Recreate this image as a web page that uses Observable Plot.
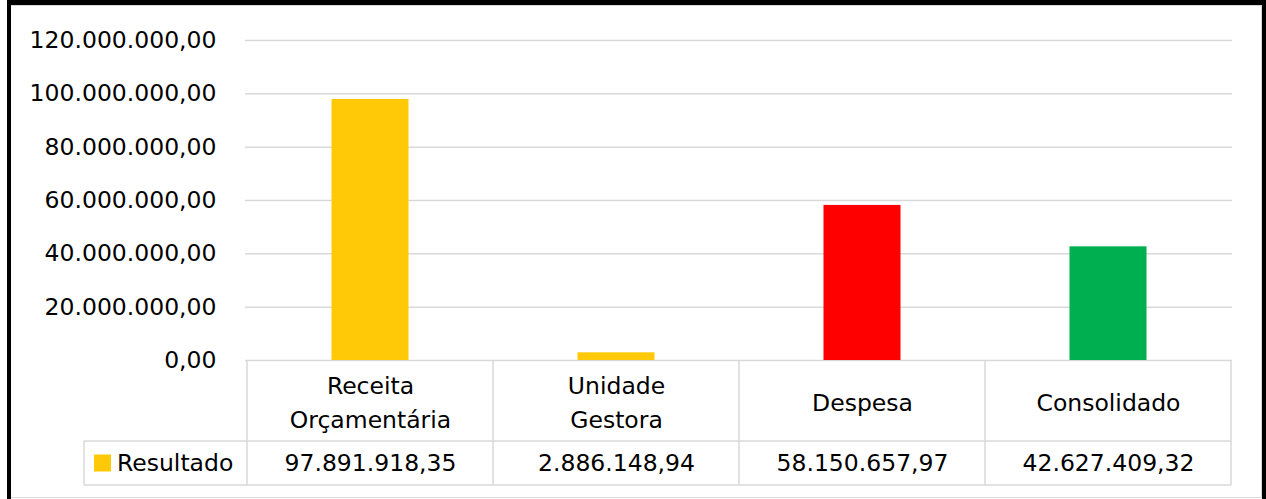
<!DOCTYPE html>
<html>
<head>
<meta charset="utf-8">
<script src="https://cdn.jsdelivr.net/npm/d3@7"></script>
<script src="https://cdn.jsdelivr.net/npm/@observablehq/plot@0.6"></script>
<style>
  html, body { margin: 0; padding: 0; background: #fff; }
  #wrap { position: relative; width: 1266px; height: 499px; overflow: hidden; font-family: "DejaVu Sans", sans-serif; }
  .b { position: absolute; background: #000; }
  #inner { position: absolute; left: 10px; top: 5px; width: 1250px; height: 491px; border: 1px solid #d9d9d9; box-sizing: content-box; }
  #chart { position: absolute; left: 0; top: 0; }
</style>
</head>
<body>
<div id="wrap">
  <div id="inner"></div>
  <div id="chart"></div>
  <div class="b" style="left:7px;top:0;width:1259px;height:5px"></div>
  <div class="b" style="left:7px;top:0;width:4px;height:499px"></div>
  <div class="b" style="left:1262px;top:0;width:4px;height:499px"></div>
</div>
<script>
const categories = ["Receita Orçamentária", "Unidade Gestora", "Despesa", "Consolidado"];
const categoryLabels = ["Receita\nOrçamentária", "Unidade\nGestora", "Despesa", "Consolidado"];
const values = [97891918.35, 2886148.94, 58150657.97, 42627409.32];
const barColors = ["#FFC907", "#FFC907", "#FF0000", "#00B050"];
const seriesName = "Resultado";
const legendColor = "#FFC907";
const yTicks = [0, 20000000, 40000000, 60000000, 80000000, 100000000, 120000000];

const ptBR = d3.formatLocale({decimal: ",", thousands: ".", grouping: [3], currency: ["", ""]});
const fmt = ptBR.format(",.2f");

const data = categories.map((c, i) => ({cat: c, label: categoryLabels[i], value: values[i], color: barColors[i]}));

const FONT = 23.5;
const FAMILY = '"DejaVu Sans", sans-serif';
const gridColor = "#d9d9d9";

const plot = Plot.plot({
  width: 1266,
  height: 499,
  marginLeft: 245,
  marginRight: 34,
  marginTop: 40,
  marginBottom: 139,
  style: {fontFamily: FAMILY, fontSize: FONT + "px", color: "#000", background: "transparent", overflow: "visible"},
  x: {domain: categories, paddingInner: 0, paddingOuter: 0, axis: null},
  y: {domain: [0, 120000000], axis: null, label: null},
  marks: [
    Plot.gridY(yTicks, {stroke: gridColor, strokeOpacity: 1, strokeWidth: 1.5}),
    Plot.axisY(yTicks, {tickSize: 0, tickPadding: 29, tickFormat: fmt, fontSize: FONT, fill: "#000", label: null}),
    Plot.barY(data, {x: "cat", y: "value", fill: "color", insetLeft: 84.5, insetRight: 84.5}),
    Plot.text(data, {x: "cat", y: () => 0, text: "label", dy: 40, lineHeight: 1.45, fontSize: FONT, fill: "#000"}),
    Plot.text(data, {x: "cat", y: () => 0, text: d => fmt(d.value), dy: 103, fontSize: FONT, fill: "#000"})
  ]
});
document.getElementById("chart").appendChild(plot);

// table lines and legend cell, placed with the plot's own scales
const xs = plot.scale("x");
const ys = plot.scale("y");
const svg = d3.select(plot);
const y0 = ys.apply(0);
const headerBottom = y0 + 81;
const rowBottom = y0 + 125;
const legendLeft = 84;
const bands = categories.map(c => xs.apply(c));
const right = bands[bands.length - 1] + xs.bandwidth;
const g = svg.append("g").attr("stroke", gridColor).attr("stroke-width", 1.5);
g.append("line").attr("x1", legendLeft).attr("x2", right).attr("y1", headerBottom).attr("y2", headerBottom);
g.append("line").attr("x1", legendLeft).attr("x2", right).attr("y1", rowBottom).attr("y2", rowBottom);
g.append("line").attr("x1", legendLeft).attr("x2", legendLeft).attr("y1", headerBottom).attr("y2", rowBottom);
bands.concat([right]).forEach(x => {
  g.append("line").attr("x1", x).attr("x2", x).attr("y1", y0).attr("y2", rowBottom);
});
const rowMid = (headerBottom + rowBottom) / 2;
svg.append("rect").attr("x", legendLeft + 10).attr("y", rowMid - 8.5).attr("width", 17).attr("height", 17).attr("fill", legendColor);
svg.append("text").attr("x", legendLeft + 33).attr("y", rowMid).attr("dy", "0.35em")
  .attr("text-anchor", "start").attr("font-family", FAMILY)
  .attr("font-size", FONT).attr("fill", "#000").text(seriesName);
</script>
</body>
</html>
